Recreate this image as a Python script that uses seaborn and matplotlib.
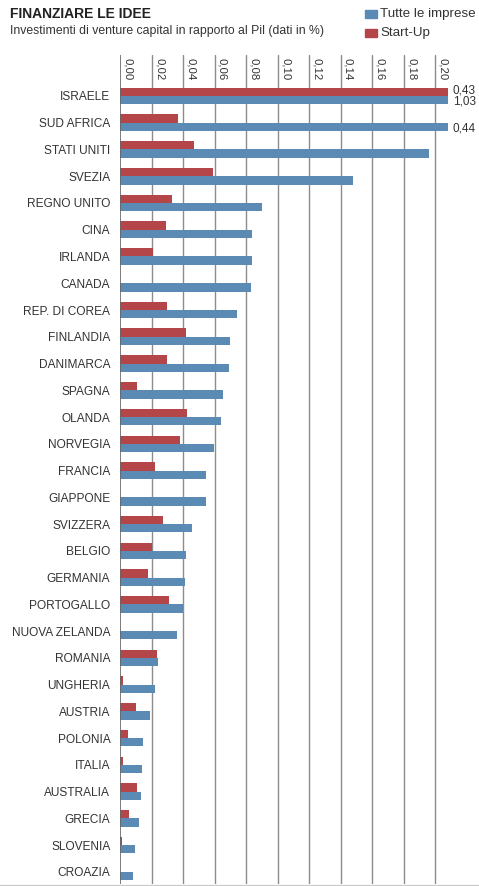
import matplotlib
matplotlib.use("Agg")
import matplotlib.pyplot as plt
import matplotlib.transforms as mtransforms
from matplotlib.patches import Rectangle
from matplotlib.lines import Line2D
import seaborn as sns
import pandas as pd

paesi = ["ISRAELE", "SUD AFRICA", "STATI UNITI", "SVEZIA", "REGNO UNITO", "CINA",
         "IRLANDA", "CANADA", "REP. DI COREA", "FINLANDIA", "DANIMARCA", "SPAGNA",
         "OLANDA", "NORVEGIA", "FRANCIA", "GIAPPONE", "SVIZZERA", "BELGIO",
         "GERMANIA", "PORTOGALLO", "NUOVA ZELANDA", "ROMANIA", "UNGHERIA",
         "AUSTRIA", "POLONIA", "ITALIA", "AUSTRALIA", "GRECIA", "SLOVENIA", "CROAZIA"]
start_up = [0.43, 0.037, 0.047, 0.059, 0.033, 0.029, 0.021, 0.0, 0.030, 0.042,
            0.030, 0.011, 0.0425, 0.038, 0.022, 0.0, 0.027, 0.020, 0.0176, 0.031,
            0.0, 0.0237, 0.0017, 0.0104, 0.005, 0.002, 0.011, 0.006, 0.0013, 0.0]
tutte = [1.03, 0.44, 0.196, 0.148, 0.090, 0.084, 0.084, 0.083, 0.0745, 0.070,
         0.0694, 0.0656, 0.064, 0.0597, 0.0546, 0.0546, 0.0455, 0.0419, 0.0413, 0.040,
         0.036, 0.0241, 0.0224, 0.019, 0.0148, 0.014, 0.0131, 0.012, 0.0097, 0.0085]
ticks = [0.00, 0.02, 0.04, 0.06, 0.08, 0.10, 0.12, 0.14, 0.16, 0.18, 0.20]
tick_labels = ["0,00", "0,02", "0,04", "0,06", "0,08", "0,10", "0,12", "0,14", "0,16", "0,18", "0,20"]
serie = ["Tutte le imprese", "Start-Up"]
etichette_fuori = [("ISRAELE", "Start-Up", "0,43"), ("ISRAELE", "Tutte le imprese", "1,03"),
                   ("SUD AFRICA", "Tutte le imprese", "0,44")]

RED = "#b4464a"
BLUE = "#5b8ab4"
TXT = "#333333"
GRID = "#8c8c8c"

sns.set_theme(style="white")
plt.rcParams["font.family"] = ["Liberation Sans", "DejaVu Sans"]

df = pd.DataFrame({
    "Paese": paesi * 2,
    "Valore": start_up + tutte,
    "Serie": ["Start-Up"] * len(paesi) + ["Tutte le imprese"] * len(paesi),
})

W, H = 479, 886
fig = plt.figure(figsize=(W / 100, H / 100), dpi=100)
fig.patch.set_facecolor("white")
ax_left, ax_right, ax_top, ax_bot = 120, 448, 55, 884
ax = fig.add_axes([ax_left / W, (H - ax_bot) / H, (ax_right - ax_left) / W, (ax_bot - ax_top) / H])

xmax = 0.20 * (ax_right - ax_left) / (435 - ax_left)

for t in ticks[1:]:
    ax.axvline(t, color=GRID, lw=1.0, zorder=0)

sns.barplot(data=df, y="Paese", x="Valore", hue="Serie", order=paesi,
            hue_order=["Start-Up", "Tutte le imprese"],
            palette={"Start-Up": RED, "Tutte le imprese": BLUE},
            orient="h", width=0.62, dodge=True, saturation=1, ax=ax, legend=False,
            linewidth=0, zorder=2)
ax.axvline(0, color="#666666", lw=1.2, zorder=3)

ax.set_xlim(0, xmax)
ax.set_ylim(len(paesi) - 0.55, -1.53)
ax.set_xlabel("")
ax.set_ylabel("")
ax.set_xticks([])
for s in ax.spines.values():
    s.set_visible(False)
ax.tick_params(axis="y", length=0, pad=7, labelsize=8.6, labelcolor=TXT)

# tick labels at the top, rotated
trans = mtransforms.blended_transform_factory(ax.transData, ax.transAxes)
trans = mtransforms.offset_copy(trans, fig=fig, x=3, y=-3, units="dots")
for t, lab in zip(ticks, tick_labels):
    ax.text(t, 1.0, lab, transform=trans, rotation=-90, ha="left", va="top",
            fontsize=8.2, color=TXT)

# out-of-range value labels
pos = {p: i for i, p in enumerate(paesi)}
off = {"Start-Up": -0.2, "Tutte le imprese": 0.22}
for p, s, lab in etichette_fuori:
    ax.text(xmax * 1.015, pos[p] + off[s], lab, ha="left", va="center",
            fontsize=8.5, color=TXT, clip_on=False)

# title, subtitle
fig.text(10 / W, 1 - 7 / H, "FINANZIARE LE IDEE", fontsize=10, fontweight="bold",
         color="#222222", ha="left", va="top")
fig.text(10 / W, 1 - 25 / H, "Investimenti di venture capital in rapporto al Pil (dati in %)",
         fontsize=8.8, color=TXT, ha="left", va="top")

# legend
for i, (lab, col) in enumerate([(serie[0], BLUE), (serie[1], RED)]):
    yc = 14 + i * 19
    fig.patches.append(Rectangle((365 / W, 1 - (yc + 4) / H), 12 / W, 8 / H,
                                 transform=fig.transFigure, color=col, figure=fig))
    fig.text(380 / W, 1 - yc / H, lab, fontsize=9.6, color=TXT, ha="left", va="center")

fig.lines.append(Line2D([0, 1], [1 - 884.5 / H, 1 - 884.5 / H], transform=fig.transFigure,
                        color="#cccccc", lw=1, figure=fig))

fig.savefig("out.png", dpi=100, facecolor="white")
